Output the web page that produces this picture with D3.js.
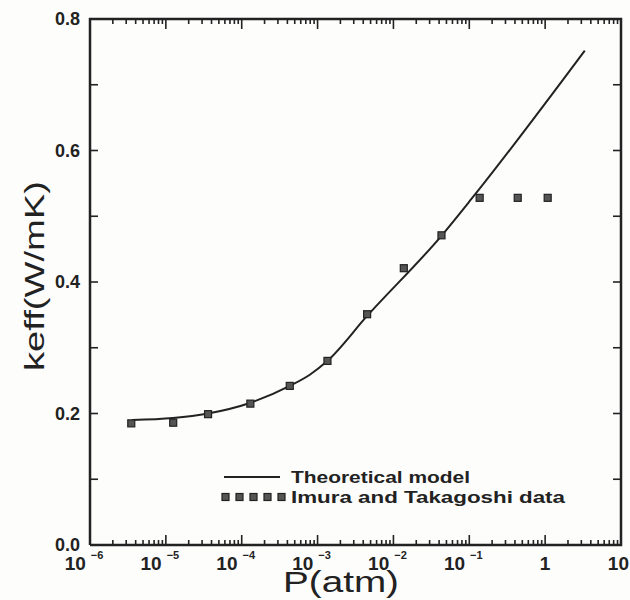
<!DOCTYPE html>
<html>
<head>
<meta charset="utf-8">
<title>keff vs P</title>
<script src="https://d3js.org/d3.v7.min.js"></script>
<style>
	body { margin: 0; padding: 0; background: #fdfdfc; overflow: hidden; }
	svg text { font-family: "Liberation Sans", "DejaVu Sans", sans-serif; fill: #222; }
</style>
</head>
<body>
<script>
	// theoretical model curve
	var modelP = [3.57e-6, 1.24e-5, 3.6e-5, 1.28e-4, 4.3e-4, 7.9e-4, 1.32e-3, 4.47e-3, 4.35e-2, 0.108, 3.33];
	var modelK = [0.190, 0.193, 0.200, 0.216, 0.242, 0.259, 0.279, 0.348, 0.471, 0.527, 0.752];

	// Imura and Takagoshi data
	var dataP = [3.5e-6, 1.25e-5, 3.6e-5, 1.3e-4, 4.3e-4, 1.35e-3, 4.5e-3, 1.37e-2, 4.3e-2, 0.137, 0.435, 1.08];
	var dataK = [0.185, 0.186, 0.199, 0.215, 0.242, 0.280, 0.351, 0.421, 0.471, 0.528, 0.528, 0.528];

	var xDecades = [1e-6, 1e-5, 1e-4, 1e-3, 1e-2, 1e-1, 1, 10];
	var xExp = [-6, -5, -4, -3, -2, -1, 0, 1];
	var yMajor = [0, 0.2, 0.4, 0.6, 0.8];
	var yMinor = [0.1, 0.3, 0.5, 0.7];
	var legendLabels = ["Theoretical model", "Imura and Takagoshi data"];

	var width = 630, height = 600;
	var pLeft = 90, pRight = 621, pTop = 19, pBottom = 545;
	var ink = "#222";

	var svg = d3.select("body").append("svg")
		.attr("width", width)
		.attr("height", height);

	var x = d3.scaleLog().domain([1e-6, 10]).range([pLeft, pRight]);
	var y = d3.scaleLinear().domain([0, 0.8]).range([pBottom, pTop]);

	var line = d3.line().x((d) => x(d.p)).y((d) => y(d.k));

	// frame, through the corners of the scale domains
	var xd = x.domain(), yd = y.domain();
	var corners = [
		{ p: xd[0], k: yd[0] }, { p: xd[1], k: yd[0] },
		{ p: xd[1], k: yd[1] }, { p: xd[0], k: yd[1] }, { p: xd[0], k: yd[0] }
	];
	svg.append("path")
		.datum(corners)
		.attr("fill", "none").attr("stroke", ink).attr("stroke-width", 2.5)
		.attr("stroke-linejoin", "miter")
		.attr("d", line);

	// tick segments in data space, pointing inward
	var kPerPx = (yd[1] - yd[0]) / (pBottom - pTop);
	var pxToLogP = (x.domain().map(Math.log10)[1] - x.domain().map(Math.log10)[0]) / (pRight - pLeft);
	var xAll = x.ticks();
	var isDecade = (v) => Math.abs(Math.log10(v) - Math.round(Math.log10(v))) < 1e-6;
	var segs = [];
	xAll.forEach(function(v) {
		var len = (isDecade(v) ? 10 : 5) * kPerPx;
		segs.push([{ p: v, k: yd[0] }, { p: v, k: yd[0] + len }]);
		segs.push([{ p: v, k: yd[1] }, { p: v, k: yd[1] - len }]);
	});
	yMajor.concat(yMinor).forEach(function(v) {
		var f = Math.pow(10, 8 * pxToLogP);
		segs.push([{ p: xd[0], k: v }, { p: xd[0] * f, k: v }]);
		segs.push([{ p: xd[1], k: v }, { p: xd[1] / f, k: v }]);
	});
	svg.selectAll("path.tick").data(segs).enter().append("path")
		.attr("class", "tick")
		.attr("fill", "none").attr("stroke", ink).attr("stroke-width", 1.6)
		.attr("d", line);

	// y tick labels
	svg.selectAll("text.ylab").data(yMajor).enter().append("text")
		.attr("class", "ylab")
		.attr("x", 80).attr("y", (d) => y(d) + 6)
		.attr("text-anchor", "end")
		.style("font-size", "18px").style("font-weight", "bold")
		.text((d) => d.toFixed(1));

	// x tick labels with superscripts
	var xl = svg.selectAll("text.xlab").data(xDecades).enter().append("text")
		.attr("class", "xlab")
		.attr("x", (d, i) => xExp[i] === 1 ? 629 : x(d) + (xExp[i] < 0 ? -6 : 0))
		.attr("y", 570)
		.attr("text-anchor", (d, i) => xExp[i] === 1 ? "end" : "middle")
		.style("font-size", "19px").style("font-weight", "bold");
	xl.each(function(d, i) {
		var t = d3.select(this);
		var e = xExp[i];
		if (e === 0) { t.text("1"); return; }
		if (e === 1) { t.text("10"); return; }
		t.append("tspan").text("10");
		t.append("tspan").attr("dx", 5).attr("dy", -11).style("font-size", "11px").text("\u2212" + (-e));
	});

	// axis titles
	svg.append("text")
		.attr("transform", "translate(44,276) rotate(-90)")
		.attr("text-anchor", "middle")
		.attr("textLength", 190).attr("lengthAdjust", "spacingAndGlyphs")
		.style("font-size", "28px")
		.text("keff(W/mK)");
	svg.append("text")
		.attr("x", 341).attr("y", 592)
		.attr("text-anchor", "middle")
		.attr("textLength", 116).attr("lengthAdjust", "spacingAndGlyphs")
		.style("font-size", "29px")
		.text("P(atm)");

	// model curve
	var model = modelP.map((p, i) => ({ p: p, k: modelK[i] }));
	svg.append("path")
		.datum(model)
		.attr("fill", "none").attr("stroke", ink).attr("stroke-width", 2)
		.attr("d", line.curve(d3.curveMonotoneX));

	// data squares
	var pts = dataP.map((p, i) => ({ p: p, k: dataK[i] }));
	var sq = 7;
	svg.selectAll("rect.pt").data(pts).enter().append("rect")
		.attr("class", "pt")
		.attr("x", (d) => x(d.p) - sq / 2).attr("y", (d) => y(d.k) - sq / 2)
		.attr("width", sq).attr("height", sq)
		.attr("fill", "#555").attr("stroke", ink).attr("stroke-width", 1.2);

	// legend
	svg.append("line")
		.attr("x1", 224).attr("x2", 280).attr("y1", 477).attr("y2", 477)
		.attr("stroke", ink).attr("stroke-width", 2);
	svg.selectAll("rect.leg").data(d3.range(5)).enter().append("rect")
		.attr("class", "leg")
		.attr("x", (d) => 222 + d * 14).attr("y", 497 - 3.5)
		.attr("width", 7).attr("height", 7)
		.attr("fill", "#555").attr("stroke", ink).attr("stroke-width", 1.2);
	svg.append("text")
		.attr("x", 291).attr("y", 483)
		.attr("textLength", 179).attr("lengthAdjust", "spacingAndGlyphs")
		.style("font-size", "17px").style("font-weight", "bold")
		.text(legendLabels[0]);
	svg.append("text")
		.attr("x", 291).attr("y", 503)
		.attr("textLength", 274).attr("lengthAdjust", "spacingAndGlyphs")
		.style("font-size", "17px").style("font-weight", "bold")
		.text(legendLabels[1]);
</script>
</body>
</html>
